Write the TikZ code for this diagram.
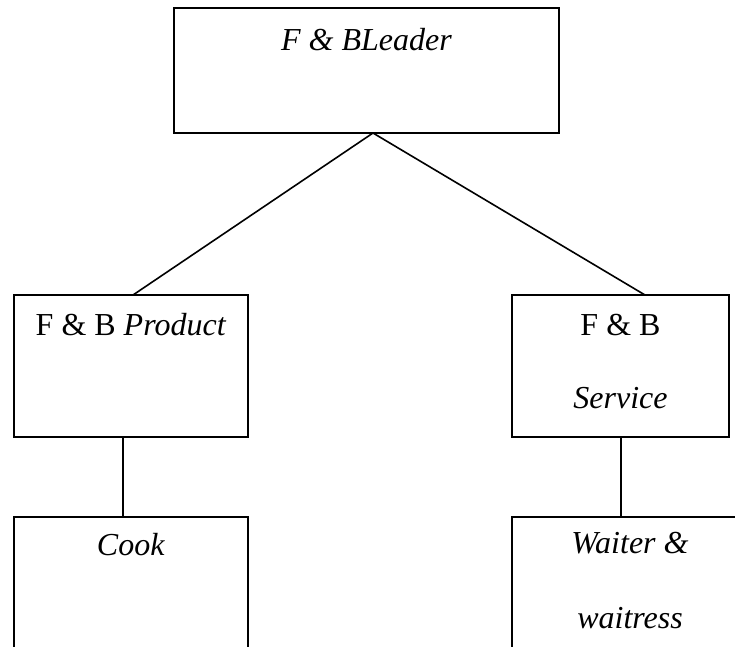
\documentclass[tikz,border=0pt]{standalone}
\usepackage{fontspec}
\setmainfont{Liberation Serif}
\begin{document}
\begin{tikzpicture}[x=1pt,y=-1pt,
  box/.style={draw, line width=1.6pt, inner sep=0pt, outer sep=0pt, anchor=north west},
  lbl/.style={anchor=base, inner sep=0pt, font=\fontsize{32}{38}\selectfont},
  conn/.style={line width=1.6pt}]
\clip (0,0) rectangle (735,646);
\fill[white] (0,0) rectangle (735,646);
% boxes
\node[box, minimum width=385pt, minimum height=125pt] (top) at (174,8) {};
\node[box, minimum width=234pt, minimum height=142pt] (lmid) at (14,295) {};
\node[box, minimum width=217pt, minimum height=142pt] (rmid) at (512,295) {};
\node[box, minimum width=234pt, minimum height=180pt] (lbot) at (14,517) {};
\node[box, minimum width=236pt, minimum height=180pt] (rbot) at (512,517) {};
% labels
\node[lbl] (ttop) at (366.5,50) {\textit{F \& BLeader}};
\node[lbl] (tlmid) at (131,335) {F \& B \textit{Product}};
\node[lbl] (trmida) at (620.5,335) {F \& B};
\node[lbl] (trmidb) at (620.5,408) {\textit{Service}};
\node[lbl] (tlbot) at (131,555) {\textit{Cook}};
\node[lbl] (trbota) at (630,553) {\textit{Waiter \&}};
\node[lbl] (trbotb) at (630,628) {\textit{waitress}};
% connectors
\draw[conn] ([xshift=6.5pt]top.south) -- ([xshift=2pt]lmid.north);
\draw[conn] ([xshift=6.5pt]top.south) -- ([xshift=24.5pt]rmid.north);
\draw[conn] ([xshift=-8pt]lmid.south) -- ([xshift=-8pt]lbot.north);
\draw[conn] ([xshift=0.5pt]rmid.south) -- ([xshift=-9pt]rbot.north);
\end{tikzpicture}
\end{document}
